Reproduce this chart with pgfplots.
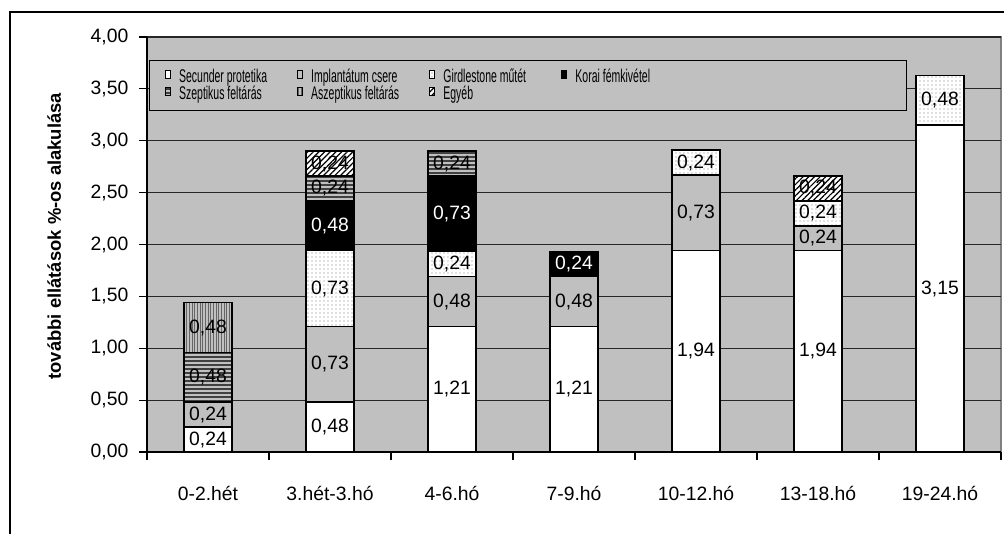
\documentclass[border=0pt]{standalone}
\usepackage{pgfplots}
\pgfplotsset{compat=1.18}
\usepackage{pgfplotstable}
\usepackage{fontspec}
\setmainfont{Liberation Sans}
\newfontfamily\legfont[FakeStretch=0.57]{Liberation Sans}
\usetikzlibrary{patterns,patterns.meta}
\definecolor{bg}{HTML}{C0C0C0}
\definecolor{frame}{HTML}{808080}

\pgfplotstableread{
x sec imp gir kor sze asz egy
0 0.24 0.24 0 0 0.48 0.48 0
1 0.48 0.73 0.73 0.48 0.24 0 0.24
2 1.21 0.48 0.24 0.73 0.24 0 0
3 1.21 0.48 0 0.24 0 0 0
4 1.94 0.73 0.24 0 0 0 0
5 1.94 0.24 0.24 0 0 0 0.24
6 3.15 0 0.48 0 0 0 0
}\data

\pgfplotstableread{
x y v
0 0.12 0.24
0 0.36 0.24
0 0.72 0.48
0 1.20 0.48
1 0.24 0.48
1 0.845 0.73
1 1.575 0.73
1 2.54 0.24
1 2.78 0.24
2 0.605 1.21
2 1.45 0.48
2 1.81 0.24
2 2.78 0.24
3 0.605 1.21
3 1.45 0.48
4 0.97 1.94
4 2.305 0.73
4 2.79 0.24
5 0.97 1.94
5 2.06 0.24
5 2.30 0.24
5 2.54 0.24
6 1.575 3.15
6 3.39 0.48
}\labk

\pgfplotstableread{
x y v
1 2.18 0.48
2 2.295 0.73
3 1.81 0.24
}\labw

\begin{document}
\begin{tikzpicture}
\useasboundingbox (0,0) rectangle (753pt,399.75pt);
\draw[black, line width=0.9pt] (7.5pt,-5pt) -- (7.5pt,390.75pt) -- (760pt,390.75pt);
\begin{axis}[
  at={(110.25pt,60.75pt)}, anchor=south west,
  scale only axis, width=640.5pt, height=311.25pt,
  xmin=-0.5, xmax=6.5, ymin=0, ymax=4,
  ybar stacked, bar width=36pt,
  axis background/.style={fill=bg, draw=frame, line width=0.9pt},
  axis x line*=bottom, axis y line*=left,
  axis line style={black, line width=0.9pt},
  xtick={-0.5,0.5,...,6.5},
  x tick label as interval,
  xticklabels={0-2.hét,3.hét-3.hó,4-6.hó,7-9.hó,10-12.hó,13-18.hó,19-24.hó},
  xticklabel style={yshift=-16pt},
  ytick={0,0.5,...,4},
  yticklabel style={xshift=-4.5pt},
  tick align=outside, major tick length=6pt,
  tick style={black, line width=0.8pt},
  ymajorgrids, major grid style={black!85, line width=0.8pt},
  yticklabel style={/pgf/number format/.cd, fixed, fixed zerofill, precision=2, use comma},
  /pgf/number format/assume math mode=true,
  ticklabel style={font=\fontsize{14.5}{17}\selectfont},
  ylabel={további ellátások \%-os alakulása},
  ylabel style={font=\bfseries\fontsize{13.8}{16}\selectfont, at={(axis description cs:-0.1085,0.52)}, anchor=center},
  legend columns=4,
  legend cell align=left,
  legend style={at={(0.0023,0.9446)}, anchor=north west, draw=black, line width=0.6pt, fill=bg,
    font=\legfont\fontsize{13.8}{14}\selectfont, inner xsep=11.5pt, inner ysep=6pt,
    nodes={inner xsep=0pt, inner ysep=0.5pt},
    /tikz/every odd column/.append style={column sep=6.45pt},
    row sep=0pt},
  legend image code/.code={\draw[#1, line width=0.6pt] (0pt,-1pt) rectangle (3.75pt,5pt);},
  every axis plot/.append style={draw=black, line width=1.1pt},
]
\addplot[fill=white] table[x=x,y=sec]{\data};
\addlegendentry{\makebox[88.3pt][l]{Secunder protetika}}
\addplot[fill=bg] table[x=x,y=imp]{\data};
\addlegendentry{\makebox[88.3pt][l]{Implantátum csere}}
\addplot[fill=white, postaction={pattern color=gray, pattern=dots}] table[x=x,y=gir]{\data};
\addlegendentry{\makebox[88.3pt][l]{Girdlestone műtét}}
\addplot[fill=black] table[x=x,y=kor]{\data};
\addlegendentry{\makebox[236.5pt][l]{Korai fémkivétel}}
\addplot[fill=bg, postaction={pattern color=black!75, pattern={Lines[angle=0,distance=3pt,line width=0.9pt]}}] table[x=x,y=sze]{\data};
\addlegendentry{\makebox[88.3pt][l]{Szeptikus feltárás}}
\addplot[fill=bg, postaction={pattern color=black!60, pattern={Lines[angle=90,distance=2pt,line width=0.5pt]}}] table[x=x,y=asz]{\data};
\addlegendentry{\makebox[88.3pt][l]{Aszeptikus feltárás}}
\addplot[fill=white, postaction={pattern color=black, pattern={Lines[angle=45,distance=3pt,line width=0.9pt]}}] table[x=x,y=egy]{\data};
\addlegendentry{\makebox[88.3pt][l]{Egyéb}}
\end{axis}
\begin{axis}[
  at={(110.25pt,60.75pt)}, anchor=south west,
  scale only axis, width=640.5pt, height=311.25pt,
  xmin=-0.5, xmax=6.5, ymin=0, ymax=4,
  hide axis, clip=false,
  point meta=explicit,
  nodes near coords={\pgfmathprintnumber[fixed,fixed zerofill,precision=2,use comma,assume math mode=true]{\pgfplotspointmeta}},
  nodes near coords align={center},
  every node near coord/.append style={anchor=center, inner sep=0pt, font=\fontsize{14.5}{17}\selectfont},
]
\addplot[only marks, mark=none, every node near coord/.append style={text=black}] table[x=x,y=y,meta=v]{\labk};
\addplot[only marks, mark=none, every node near coord/.append style={text=white}] table[x=x,y=y,meta=v]{\labw};
\end{axis}
\end{tikzpicture}
\end{document}
